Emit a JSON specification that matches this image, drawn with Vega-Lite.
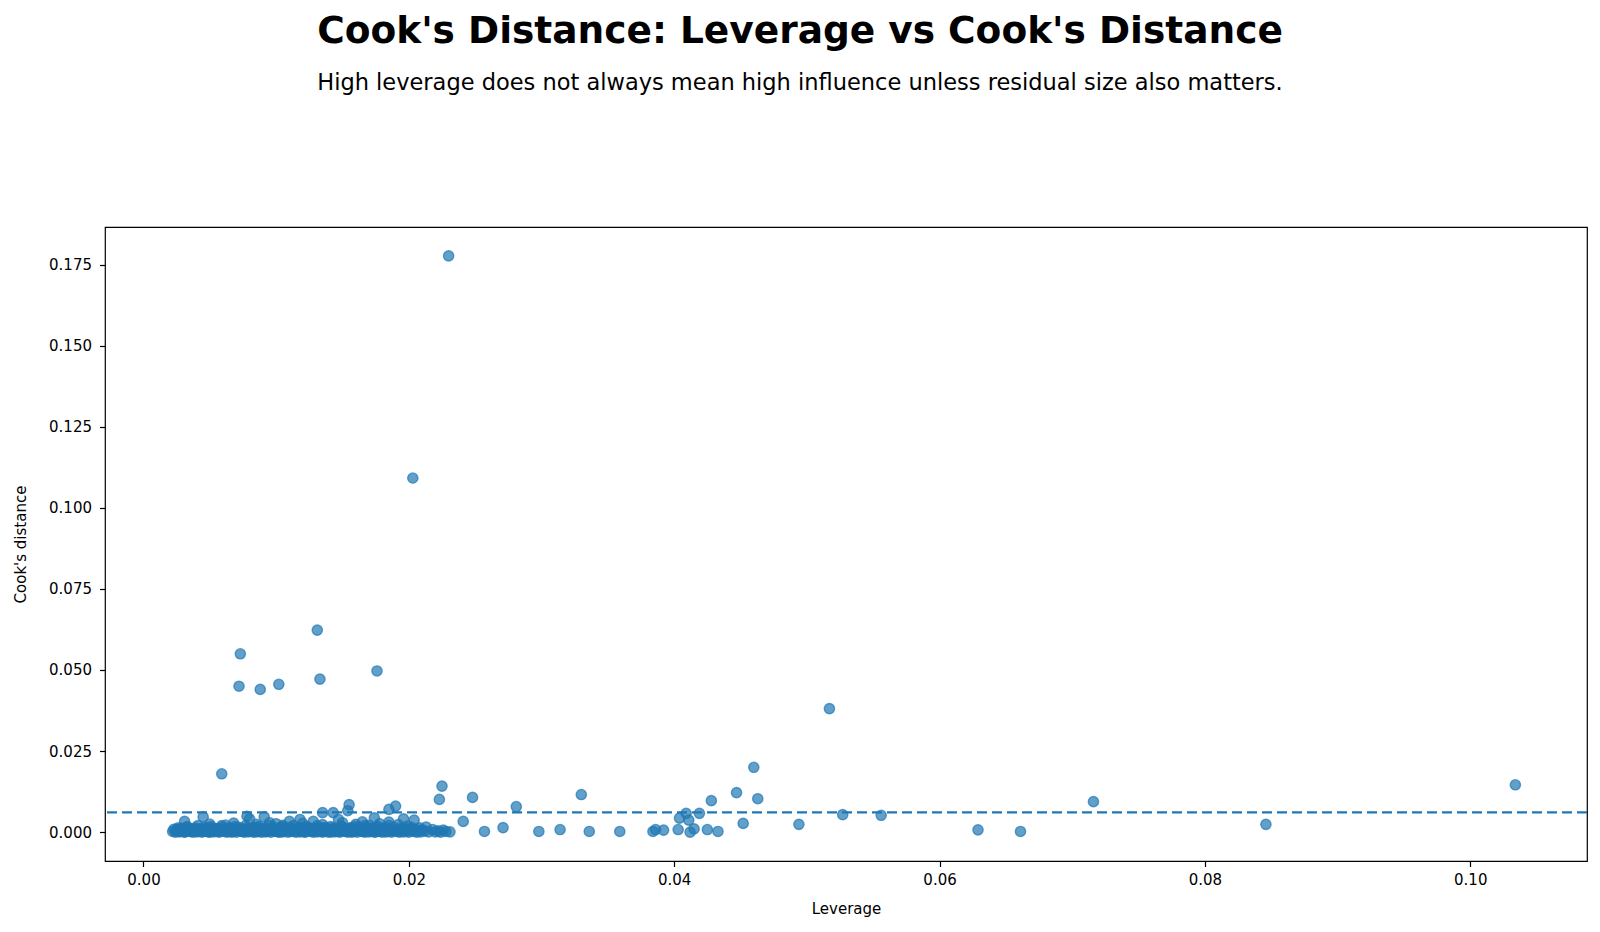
{
  "$schema": "https://vega.github.io/schema/vega-lite/v6.json",
  "width": 1482,
  "height": 634,
  "autosize": {"type": "none"},
  "padding": {"left": 105, "top": 227, "right": 13, "bottom": 71},
  "background": "white",
  "title": {
    "text": "Cook's Distance: Leverage vs Cook's Distance",
    "subtitle": "High leverage does not always mean high influence unless residual size also matters.",
    "anchor": "middle",
    "frame": "group",
    "dx": -46,
    "offset": 133,
    "font": "DejaVu Sans",
    "fontSize": 37.5,
    "fontWeight": "bold",
    "color": "black",
    "subtitleFont": "DejaVu Sans",
    "subtitleFontSize": 22.5,
    "subtitleColor": "black",
    "subtitlePadding": 21
  },
  "config": {
    "view": {"stroke": "black", "strokeWidth": 1.2},
    "axis": {
      "domain": false,
      "grid": false,
      "tickColor": "black",
      "tickWidth": 1.2,
      "tickSize": 5.5,
      "labelFont": "DejaVu Sans",
      "labelFontSize": 15,
      "labelColor": "black",
      "titleFont": "DejaVu Sans",
      "titleFontSize": 15,
      "titleFontWeight": "normal",
      "titleColor": "black"
    }
  },
  "datasets": {
    "pts": [
      {"leverage": 0.0230, "cooks": 0.1777},
      {"leverage": 0.0203, "cooks": 0.1092},
      {"leverage": 0.0131, "cooks": 0.0623},
      {"leverage": 0.0073, "cooks": 0.0550},
      {"leverage": 0.0176, "cooks": 0.0497},
      {"leverage": 0.0133, "cooks": 0.0472},
      {"leverage": 0.0072, "cooks": 0.0450},
      {"leverage": 0.0102, "cooks": 0.0456},
      {"leverage": 0.0088, "cooks": 0.0440},
      {"leverage": 0.0517, "cooks": 0.0381},
      {"leverage": 0.0059, "cooks": 0.0180},
      {"leverage": 0.0460, "cooks": 0.0200},
      {"leverage": 0.1034, "cooks": 0.0146},
      {"leverage": 0.0225, "cooks": 0.0142},
      {"leverage": 0.0223, "cooks": 0.0101},
      {"leverage": 0.0248, "cooks": 0.0107},
      {"leverage": 0.0330, "cooks": 0.0116},
      {"leverage": 0.0447, "cooks": 0.0122},
      {"leverage": 0.0463, "cooks": 0.0103},
      {"leverage": 0.0428, "cooks": 0.0097},
      {"leverage": 0.0716, "cooks": 0.0094},
      {"leverage": 0.0281, "cooks": 0.0079},
      {"leverage": 0.0190, "cooks": 0.0080},
      {"leverage": 0.0185, "cooks": 0.0070},
      {"leverage": 0.0155, "cooks": 0.0085},
      {"leverage": 0.0154, "cooks": 0.0066},
      {"leverage": 0.0135, "cooks": 0.0060},
      {"leverage": 0.0143, "cooks": 0.0060},
      {"leverage": 0.0527, "cooks": 0.0054},
      {"leverage": 0.0556, "cooks": 0.0052},
      {"leverage": 0.0419, "cooks": 0.0058},
      {"leverage": 0.0409, "cooks": 0.0058},
      {"leverage": 0.0404, "cooks": 0.0043},
      {"leverage": 0.0411, "cooks": 0.0037},
      {"leverage": 0.0452, "cooks": 0.0027},
      {"leverage": 0.0494, "cooks": 0.0024},
      {"leverage": 0.0846, "cooks": 0.0024},
      {"leverage": 0.0629, "cooks": 0.0007},
      {"leverage": 0.0661, "cooks": 0.0002},
      {"leverage": 0.0241, "cooks": 0.0033},
      {"leverage": 0.0271, "cooks": 0.0014},
      {"leverage": 0.0257, "cooks": 0.0002},
      {"leverage": 0.0298, "cooks": 0.0002},
      {"leverage": 0.0314, "cooks": 0.0008},
      {"leverage": 0.0336, "cooks": 0.0002},
      {"leverage": 0.0359, "cooks": 0.0002},
      {"leverage": 0.0384, "cooks": 0.0002},
      {"leverage": 0.0386, "cooks": 0.0008},
      {"leverage": 0.0392, "cooks": 0.0006},
      {"leverage": 0.0403, "cooks": 0.0008},
      {"leverage": 0.0412, "cooks": 0.0000},
      {"leverage": 0.0415, "cooks": 0.0010},
      {"leverage": 0.0425, "cooks": 0.0008},
      {"leverage": 0.0433, "cooks": 0.0002},
      {"leverage": 0.0045, "cooks": 0.0047},
      {"leverage": 0.0031, "cooks": 0.0033},
      {"leverage": 0.0078, "cooks": 0.0049},
      {"leverage": 0.0080, "cooks": 0.0041},
      {"leverage": 0.0091, "cooks": 0.0047},
      {"leverage": 0.0095, "cooks": 0.0029},
      {"leverage": 0.0110, "cooks": 0.0033},
      {"leverage": 0.0118, "cooks": 0.0039},
      {"leverage": 0.0128, "cooks": 0.0033},
      {"leverage": 0.0147, "cooks": 0.0039},
      {"leverage": 0.0174, "cooks": 0.0044},
      {"leverage": 0.0196, "cooks": 0.0041},
      {"leverage": 0.0204, "cooks": 0.0037},
      {"leverage": 0.0213, "cooks": 0.0016},
      {"leverage": 0.0212, "cooks": 0.0003},
      {"leverage": 0.0215, "cooks": 0.0001},
      {"leverage": 0.0218, "cooks": 0.0008},
      {"leverage": 0.0220, "cooks": 0.0001},
      {"leverage": 0.0222, "cooks": 0.0004},
      {"leverage": 0.0224, "cooks": 0.0000},
      {"leverage": 0.0226, "cooks": 0.0006},
      {"leverage": 0.0228, "cooks": 0.0002},
      {"leverage": 0.0231, "cooks": 0.0001},
      {"leverage": 0.0050, "cooks": 0.0025},
      {"leverage": 0.0062, "cooks": 0.0022},
      {"leverage": 0.0068, "cooks": 0.0028},
      {"leverage": 0.0085, "cooks": 0.0024},
      {"leverage": 0.0100, "cooks": 0.0026},
      {"leverage": 0.0105, "cooks": 0.0021},
      {"leverage": 0.0120, "cooks": 0.0027},
      {"leverage": 0.0135, "cooks": 0.0023},
      {"leverage": 0.0150, "cooks": 0.0029},
      {"leverage": 0.0160, "cooks": 0.0024},
      {"leverage": 0.0165, "cooks": 0.0032},
      {"leverage": 0.0170, "cooks": 0.0021},
      {"leverage": 0.0178, "cooks": 0.0026},
      {"leverage": 0.0185, "cooks": 0.0031},
      {"leverage": 0.0192, "cooks": 0.0023},
      {"leverage": 0.0199, "cooks": 0.0019},
      {"leverage": 0.0022, "cooks": 0.0002},
      {"leverage": 0.0023, "cooks": 0.0009},
      {"leverage": 0.0024, "cooks": 0.0000},
      {"leverage": 0.0025, "cooks": 0.0005},
      {"leverage": 0.0026, "cooks": 0.0013},
      {"leverage": 0.0027, "cooks": 0.0001},
      {"leverage": 0.0028, "cooks": 0.0007},
      {"leverage": 0.0029, "cooks": 0.0003},
      {"leverage": 0.0030, "cooks": 0.0011},
      {"leverage": 0.0031, "cooks": 0.0000},
      {"leverage": 0.0032, "cooks": 0.0006},
      {"leverage": 0.0033, "cooks": 0.0015},
      {"leverage": 0.0034, "cooks": 0.0004},
      {"leverage": 0.0035, "cooks": 0.0002},
      {"leverage": 0.0036, "cooks": 0.0009},
      {"leverage": 0.0037, "cooks": 0.0000},
      {"leverage": 0.0038, "cooks": 0.0005},
      {"leverage": 0.0039, "cooks": 0.0013},
      {"leverage": 0.0040, "cooks": 0.0001},
      {"leverage": 0.0041, "cooks": 0.0007},
      {"leverage": 0.0042, "cooks": 0.0003},
      {"leverage": 0.0043, "cooks": 0.0011},
      {"leverage": 0.0044, "cooks": 0.0000},
      {"leverage": 0.0045, "cooks": 0.0006},
      {"leverage": 0.0046, "cooks": 0.0015},
      {"leverage": 0.0047, "cooks": 0.0004},
      {"leverage": 0.0048, "cooks": 0.0002},
      {"leverage": 0.0049, "cooks": 0.0009},
      {"leverage": 0.0050, "cooks": 0.0000},
      {"leverage": 0.0051, "cooks": 0.0005},
      {"leverage": 0.0052, "cooks": 0.0013},
      {"leverage": 0.0053, "cooks": 0.0001},
      {"leverage": 0.0054, "cooks": 0.0007},
      {"leverage": 0.0055, "cooks": 0.0003},
      {"leverage": 0.0056, "cooks": 0.0011},
      {"leverage": 0.0057, "cooks": 0.0000},
      {"leverage": 0.0058, "cooks": 0.0006},
      {"leverage": 0.0059, "cooks": 0.0015},
      {"leverage": 0.0060, "cooks": 0.0004},
      {"leverage": 0.0061, "cooks": 0.0002},
      {"leverage": 0.0062, "cooks": 0.0009},
      {"leverage": 0.0063, "cooks": 0.0000},
      {"leverage": 0.0064, "cooks": 0.0005},
      {"leverage": 0.0065, "cooks": 0.0013},
      {"leverage": 0.0066, "cooks": 0.0001},
      {"leverage": 0.0067, "cooks": 0.0007},
      {"leverage": 0.0068, "cooks": 0.0003},
      {"leverage": 0.0069, "cooks": 0.0011},
      {"leverage": 0.0070, "cooks": 0.0000},
      {"leverage": 0.0071, "cooks": 0.0006},
      {"leverage": 0.0072, "cooks": 0.0015},
      {"leverage": 0.0073, "cooks": 0.0004},
      {"leverage": 0.0074, "cooks": 0.0002},
      {"leverage": 0.0075, "cooks": 0.0009},
      {"leverage": 0.0076, "cooks": 0.0000},
      {"leverage": 0.0077, "cooks": 0.0005},
      {"leverage": 0.0078, "cooks": 0.0013},
      {"leverage": 0.0079, "cooks": 0.0001},
      {"leverage": 0.0080, "cooks": 0.0007},
      {"leverage": 0.0081, "cooks": 0.0003},
      {"leverage": 0.0082, "cooks": 0.0011},
      {"leverage": 0.0083, "cooks": 0.0000},
      {"leverage": 0.0084, "cooks": 0.0006},
      {"leverage": 0.0085, "cooks": 0.0015},
      {"leverage": 0.0086, "cooks": 0.0004},
      {"leverage": 0.0087, "cooks": 0.0002},
      {"leverage": 0.0088, "cooks": 0.0009},
      {"leverage": 0.0089, "cooks": 0.0000},
      {"leverage": 0.0090, "cooks": 0.0005},
      {"leverage": 0.0091, "cooks": 0.0013},
      {"leverage": 0.0092, "cooks": 0.0001},
      {"leverage": 0.0093, "cooks": 0.0007},
      {"leverage": 0.0094, "cooks": 0.0003},
      {"leverage": 0.0095, "cooks": 0.0011},
      {"leverage": 0.0096, "cooks": 0.0000},
      {"leverage": 0.0097, "cooks": 0.0006},
      {"leverage": 0.0098, "cooks": 0.0015},
      {"leverage": 0.0099, "cooks": 0.0004},
      {"leverage": 0.0100, "cooks": 0.0002},
      {"leverage": 0.0101, "cooks": 0.0009},
      {"leverage": 0.0102, "cooks": 0.0000},
      {"leverage": 0.0103, "cooks": 0.0005},
      {"leverage": 0.0104, "cooks": 0.0013},
      {"leverage": 0.0105, "cooks": 0.0001},
      {"leverage": 0.0106, "cooks": 0.0007},
      {"leverage": 0.0107, "cooks": 0.0003},
      {"leverage": 0.0108, "cooks": 0.0011},
      {"leverage": 0.0109, "cooks": 0.0000},
      {"leverage": 0.0110, "cooks": 0.0006},
      {"leverage": 0.0111, "cooks": 0.0015},
      {"leverage": 0.0112, "cooks": 0.0004},
      {"leverage": 0.0113, "cooks": 0.0002},
      {"leverage": 0.0114, "cooks": 0.0009},
      {"leverage": 0.0115, "cooks": 0.0000},
      {"leverage": 0.0116, "cooks": 0.0005},
      {"leverage": 0.0117, "cooks": 0.0013},
      {"leverage": 0.0118, "cooks": 0.0001},
      {"leverage": 0.0119, "cooks": 0.0007},
      {"leverage": 0.0120, "cooks": 0.0003},
      {"leverage": 0.0121, "cooks": 0.0011},
      {"leverage": 0.0122, "cooks": 0.0000},
      {"leverage": 0.0123, "cooks": 0.0006},
      {"leverage": 0.0124, "cooks": 0.0015},
      {"leverage": 0.0125, "cooks": 0.0004},
      {"leverage": 0.0126, "cooks": 0.0002},
      {"leverage": 0.0127, "cooks": 0.0009},
      {"leverage": 0.0128, "cooks": 0.0000},
      {"leverage": 0.0129, "cooks": 0.0005},
      {"leverage": 0.0130, "cooks": 0.0013},
      {"leverage": 0.0131, "cooks": 0.0001},
      {"leverage": 0.0132, "cooks": 0.0007},
      {"leverage": 0.0133, "cooks": 0.0003},
      {"leverage": 0.0134, "cooks": 0.0011},
      {"leverage": 0.0135, "cooks": 0.0000},
      {"leverage": 0.0136, "cooks": 0.0006},
      {"leverage": 0.0137, "cooks": 0.0015},
      {"leverage": 0.0138, "cooks": 0.0004},
      {"leverage": 0.0139, "cooks": 0.0002},
      {"leverage": 0.0140, "cooks": 0.0009},
      {"leverage": 0.0141, "cooks": 0.0000},
      {"leverage": 0.0142, "cooks": 0.0005},
      {"leverage": 0.0143, "cooks": 0.0013},
      {"leverage": 0.0144, "cooks": 0.0001},
      {"leverage": 0.0145, "cooks": 0.0007},
      {"leverage": 0.0146, "cooks": 0.0003},
      {"leverage": 0.0147, "cooks": 0.0011},
      {"leverage": 0.0148, "cooks": 0.0000},
      {"leverage": 0.0149, "cooks": 0.0006},
      {"leverage": 0.0150, "cooks": 0.0015},
      {"leverage": 0.0151, "cooks": 0.0004},
      {"leverage": 0.0152, "cooks": 0.0002},
      {"leverage": 0.0153, "cooks": 0.0009},
      {"leverage": 0.0154, "cooks": 0.0000},
      {"leverage": 0.0155, "cooks": 0.0005},
      {"leverage": 0.0156, "cooks": 0.0013},
      {"leverage": 0.0157, "cooks": 0.0001},
      {"leverage": 0.0158, "cooks": 0.0007},
      {"leverage": 0.0159, "cooks": 0.0003},
      {"leverage": 0.0160, "cooks": 0.0011},
      {"leverage": 0.0161, "cooks": 0.0000},
      {"leverage": 0.0162, "cooks": 0.0006},
      {"leverage": 0.0163, "cooks": 0.0015},
      {"leverage": 0.0164, "cooks": 0.0004},
      {"leverage": 0.0165, "cooks": 0.0002},
      {"leverage": 0.0166, "cooks": 0.0009},
      {"leverage": 0.0167, "cooks": 0.0000},
      {"leverage": 0.0168, "cooks": 0.0005},
      {"leverage": 0.0169, "cooks": 0.0013},
      {"leverage": 0.0170, "cooks": 0.0001},
      {"leverage": 0.0171, "cooks": 0.0007},
      {"leverage": 0.0172, "cooks": 0.0003},
      {"leverage": 0.0173, "cooks": 0.0011},
      {"leverage": 0.0174, "cooks": 0.0000},
      {"leverage": 0.0175, "cooks": 0.0006},
      {"leverage": 0.0176, "cooks": 0.0015},
      {"leverage": 0.0177, "cooks": 0.0004},
      {"leverage": 0.0178, "cooks": 0.0002},
      {"leverage": 0.0179, "cooks": 0.0009},
      {"leverage": 0.0180, "cooks": 0.0000},
      {"leverage": 0.0181, "cooks": 0.0005},
      {"leverage": 0.0182, "cooks": 0.0013},
      {"leverage": 0.0183, "cooks": 0.0001},
      {"leverage": 0.0184, "cooks": 0.0007},
      {"leverage": 0.0185, "cooks": 0.0003},
      {"leverage": 0.0186, "cooks": 0.0011},
      {"leverage": 0.0187, "cooks": 0.0000},
      {"leverage": 0.0188, "cooks": 0.0006},
      {"leverage": 0.0189, "cooks": 0.0015},
      {"leverage": 0.0190, "cooks": 0.0004},
      {"leverage": 0.0191, "cooks": 0.0002},
      {"leverage": 0.0192, "cooks": 0.0009},
      {"leverage": 0.0193, "cooks": 0.0000},
      {"leverage": 0.0194, "cooks": 0.0005},
      {"leverage": 0.0195, "cooks": 0.0013},
      {"leverage": 0.0196, "cooks": 0.0001},
      {"leverage": 0.0197, "cooks": 0.0007},
      {"leverage": 0.0198, "cooks": 0.0003},
      {"leverage": 0.0199, "cooks": 0.0011},
      {"leverage": 0.0200, "cooks": 0.0000},
      {"leverage": 0.0201, "cooks": 0.0006},
      {"leverage": 0.0202, "cooks": 0.0015},
      {"leverage": 0.0203, "cooks": 0.0004},
      {"leverage": 0.0204, "cooks": 0.0002},
      {"leverage": 0.0205, "cooks": 0.0009},
      {"leverage": 0.0206, "cooks": 0.0000},
      {"leverage": 0.0207, "cooks": 0.0005},
      {"leverage": 0.0208, "cooks": 0.0013},
      {"leverage": 0.0209, "cooks": 0.0001},
      {"leverage": 0.0210, "cooks": 0.0007},
      {"leverage": 0.0025, "cooks": 0.0008},
      {"leverage": 0.0027, "cooks": 0.0003},
      {"leverage": 0.0029, "cooks": 0.0012},
      {"leverage": 0.0031, "cooks": 0.0001},
      {"leverage": 0.0033, "cooks": 0.0017},
      {"leverage": 0.0035, "cooks": 0.0006},
      {"leverage": 0.0037, "cooks": 0.0010},
      {"leverage": 0.0039, "cooks": 0.0002},
      {"leverage": 0.0041, "cooks": 0.0020},
      {"leverage": 0.0043, "cooks": 0.0008},
      {"leverage": 0.0045, "cooks": 0.0003},
      {"leverage": 0.0047, "cooks": 0.0012},
      {"leverage": 0.0049, "cooks": 0.0001},
      {"leverage": 0.0051, "cooks": 0.0017},
      {"leverage": 0.0053, "cooks": 0.0006},
      {"leverage": 0.0055, "cooks": 0.0010},
      {"leverage": 0.0057, "cooks": 0.0002},
      {"leverage": 0.0059, "cooks": 0.0020},
      {"leverage": 0.0061, "cooks": 0.0008},
      {"leverage": 0.0063, "cooks": 0.0003},
      {"leverage": 0.0065, "cooks": 0.0012},
      {"leverage": 0.0067, "cooks": 0.0001},
      {"leverage": 0.0069, "cooks": 0.0017},
      {"leverage": 0.0071, "cooks": 0.0006},
      {"leverage": 0.0073, "cooks": 0.0010},
      {"leverage": 0.0075, "cooks": 0.0002},
      {"leverage": 0.0077, "cooks": 0.0020},
      {"leverage": 0.0079, "cooks": 0.0008},
      {"leverage": 0.0081, "cooks": 0.0003},
      {"leverage": 0.0083, "cooks": 0.0012},
      {"leverage": 0.0085, "cooks": 0.0001},
      {"leverage": 0.0087, "cooks": 0.0017},
      {"leverage": 0.0089, "cooks": 0.0006},
      {"leverage": 0.0091, "cooks": 0.0010},
      {"leverage": 0.0093, "cooks": 0.0002},
      {"leverage": 0.0095, "cooks": 0.0020},
      {"leverage": 0.0097, "cooks": 0.0008},
      {"leverage": 0.0099, "cooks": 0.0003},
      {"leverage": 0.0101, "cooks": 0.0012},
      {"leverage": 0.0103, "cooks": 0.0001},
      {"leverage": 0.0105, "cooks": 0.0017},
      {"leverage": 0.0107, "cooks": 0.0006},
      {"leverage": 0.0109, "cooks": 0.0010},
      {"leverage": 0.0111, "cooks": 0.0002},
      {"leverage": 0.0113, "cooks": 0.0020},
      {"leverage": 0.0115, "cooks": 0.0008},
      {"leverage": 0.0117, "cooks": 0.0003},
      {"leverage": 0.0119, "cooks": 0.0012},
      {"leverage": 0.0121, "cooks": 0.0001},
      {"leverage": 0.0123, "cooks": 0.0017},
      {"leverage": 0.0125, "cooks": 0.0006},
      {"leverage": 0.0127, "cooks": 0.0010},
      {"leverage": 0.0129, "cooks": 0.0002},
      {"leverage": 0.0131, "cooks": 0.0020},
      {"leverage": 0.0133, "cooks": 0.0008},
      {"leverage": 0.0135, "cooks": 0.0003},
      {"leverage": 0.0137, "cooks": 0.0012},
      {"leverage": 0.0139, "cooks": 0.0001},
      {"leverage": 0.0141, "cooks": 0.0017},
      {"leverage": 0.0143, "cooks": 0.0006},
      {"leverage": 0.0145, "cooks": 0.0010},
      {"leverage": 0.0147, "cooks": 0.0002},
      {"leverage": 0.0149, "cooks": 0.0020},
      {"leverage": 0.0151, "cooks": 0.0008},
      {"leverage": 0.0153, "cooks": 0.0003},
      {"leverage": 0.0155, "cooks": 0.0012},
      {"leverage": 0.0157, "cooks": 0.0001},
      {"leverage": 0.0159, "cooks": 0.0017},
      {"leverage": 0.0161, "cooks": 0.0006},
      {"leverage": 0.0163, "cooks": 0.0010},
      {"leverage": 0.0165, "cooks": 0.0002},
      {"leverage": 0.0167, "cooks": 0.0020},
      {"leverage": 0.0169, "cooks": 0.0008},
      {"leverage": 0.0171, "cooks": 0.0003},
      {"leverage": 0.0173, "cooks": 0.0012},
      {"leverage": 0.0175, "cooks": 0.0001},
      {"leverage": 0.0177, "cooks": 0.0017},
      {"leverage": 0.0179, "cooks": 0.0006},
      {"leverage": 0.0181, "cooks": 0.0010},
      {"leverage": 0.0183, "cooks": 0.0002},
      {"leverage": 0.0185, "cooks": 0.0020}
    ],
    "threshold": [
      {"cooks": 0.0061}
    ]
  },
  "layer": [
    {
      "data": {"name": "pts"},
      "mark": {
        "type": "circle",
        "size": 105,
        "fill": "#1f77b4",
        "stroke": "#1f77b4",
        "strokeWidth": 1.4,
        "fillOpacity": 0.7,
        "strokeOpacity": 0.7
      },
      "encoding": {
        "x": {
          "field": "leverage",
          "type": "quantitative",
          "title": "Leverage",
          "scale": {"domain": [-0.0029, 0.1088], "nice": false, "zero": false},
          "axis": {
            "values": [0, 0.02, 0.04, 0.06, 0.08, 0.1],
            "format": ".2f",
            "labelPadding": 6,
            "titlePadding": 14
          }
        },
        "y": {
          "field": "cooks",
          "type": "quantitative",
          "title": "Cook's distance",
          "scale": {"domain": [-0.0089, 0.1866], "nice": false, "zero": false},
          "axis": {
            "values": [0, 0.025, 0.05, 0.075, 0.1, 0.125, 0.15, 0.175],
            "format": ".3f",
            "labelPadding": 8,
            "titlePadding": 20
          }
        }
      }
    },
    {
      "data": {"name": "threshold"},
      "mark": {
        "type": "rule",
        "color": "#1f77b4",
        "strokeWidth": 2.3,
        "strokeDash": [10, 5]
      },
      "encoding": {
        "y": {"field": "cooks", "type": "quantitative"}
      }
    }
  ]
}
